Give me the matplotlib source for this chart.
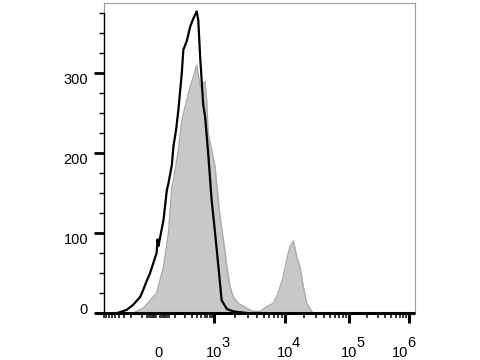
import numpy as np
import matplotlib
matplotlib.use("Agg")
import matplotlib.pyplot as plt
import matplotlib.transforms as mtransforms

plt.rcParams['font.family'] = ['Liberation Sans', 'DejaVu Sans']

# ---- data (x in display channels 0-1000, y in counts) ----
black_x = [42, 51, 73, 93, 116, 125, 137, 148, 158, 169, 172, 175, 178, 183, 191, 202, 206,
           218, 223, 232, 239, 250, 255, 266, 277, 287, 298, 303, 309, 319, 325, 334,
           346, 357, 368, 378, 395, 416, 437, 459]
black_y = [0, 1, 4, 10, 20, 28, 40, 50, 62, 75, 92, 84, 90, 100, 116, 154, 160,
           185, 208, 230, 254, 300, 329, 340, 358, 368, 377, 366, 320, 260, 245, 204,
           141, 100, 57, 16, 5, 2, 1, 0]

gray_x = [93, 126, 169, 191, 207, 218, 223, 239, 250, 266, 277, 287, 298, 309, 325,
          330, 335, 346, 357, 362, 373, 384, 395, 405, 416, 432, 459, 479, 502, 523,
          544, 560, 576, 587, 598, 609, 620, 630, 641, 652, 668, 672]
gray_y = [0, 6, 25, 58, 100, 158, 166, 204, 241, 266, 283, 295, 310, 283, 289,
          266, 225, 204, 183, 162, 120, 91, 58, 33, 20, 12, 6, 2, 2, 8,
          12, 25, 45, 66, 83, 90, 70, 58, 33, 12, 2, 0]

# axis tick values (fluorescence) and labels
decades = [1e3, 1e4, 1e5, 1e6]
decade_exponents = ['3', '4', '5', '6']
y_major = [0, 100, 200, 300]

# mapping of fluorescence to display channels (biexponential-like)
anchor_u = [-1.302, 0.0, 1.302, 2.301, 3.301, 4.301]
anchor_ch = [-6.5, 173.6, 353.7, 582.0, 787.8, 980.7]


def to_channel(v):
    u = np.arcsinh(np.asarray(v, float) / 100.0) / np.log(10)
    return np.interp(u, anchor_u, anchor_ch)


fig = plt.figure(figsize=(4.8, 3.6), dpi=100)
ax = fig.add_axes([104 / 480, 47 / 360, 311 / 480, 310 / 360])

ax.fill_between(gray_x, gray_y, 0, color='#c8c8c8', lw=0, zorder=2)
ax.plot(gray_x, gray_y, color='#aaaaaa', lw=1.0, zorder=3)
ax.plot(black_x, black_y, color='black', lw=1.6, zorder=4)

ax.set_xlim(0, 1000)
ax.set_ylim(0, 387.5)

for s in ['top', 'right', 'left']:
    ax.spines[s].set_color('#9a9a9a')
    ax.spines[s].set_linewidth(0.8)
ax.spines['bottom'].set_visible(False)

# thick bottom axis line and black left axis line
ax.plot([-8 / 311, 1], [0, 0], transform=ax.transAxes, color='black', lw=2.2,
        clip_on=False, zorder=6, solid_capstyle='butt')
ax.plot([0, 0], [0, 375], color='black', lw=1.0, clip_on=False, zorder=6)

# y ticks
ax.set_yticks(y_major)
ax.set_yticklabels([str(v) for v in y_major])
ax.set_yticks(np.arange(25, 380, 25), minor=True)
ax.tick_params(axis='y', which='major', length=7, width=2.0, pad=4.5,
               labelsize=10.5, color='black')
ax.tick_params(axis='y', which='minor', length=3.5, width=1.0, color='black')
for lbl, v in zip(ax.get_yticklabels(), y_major):
    dy = 4 / 100 if v == 0 else -5 / 100
    lbl.set_transform(lbl.get_transform() +
                      mtransforms.ScaledTranslation(0, dy, fig.dpi_scale_trans))

# x ticks
major_pos = [to_channel(0)] + list(to_channel(decades))
ax.set_xticks(major_pos)
ax.set_xticklabels(['0'] + ['10'] * len(decades))
minor_vals = []
for d in [1e3, 1e4, 1e5]:
    minor_vals += [m * d for m in range(2, 10)]
minor_vals += [m * 100 for m in range(1, 10)] + [-m * 100 for m in range(1, 10)]
minor_vals += [m * 10 for m in range(-6, 7) if m != 0]
ax.set_xticks(to_channel(minor_vals), minor=True)
ax.tick_params(axis='x', which='major', length=7.5, width=2.2, pad=24,
               labelsize=10.5, color='black')
ax.tick_params(axis='x', which='minor', length=3.8, width=1.1, color='black')
ax.xaxis.get_major_ticks()[0].tick1line.set_visible(False)
xlabels = ax.get_xticklabels()
for lbl in xlabels:
    lbl.set_va('baseline')
# last label sits slightly left of its tick
xlabels[-1].set_transform(xlabels[-1].get_transform() +
                          mtransforms.ScaledTranslation(-9 / 100, 0, fig.dpi_scale_trans))

# exponents
for pos, e, shift in zip(major_pos[1:], decade_exponents, [0, 0, 0, -9]):
    ax.annotate(e, xy=(pos, 0), xycoords=('data', 'axes fraction'),
                xytext=((7 + shift) * 0.72, -24.5), textcoords='offset points',
                ha='left', va='baseline', fontsize=10.5, annotation_clip=False)

fig.savefig('out.png', dpi=100)
